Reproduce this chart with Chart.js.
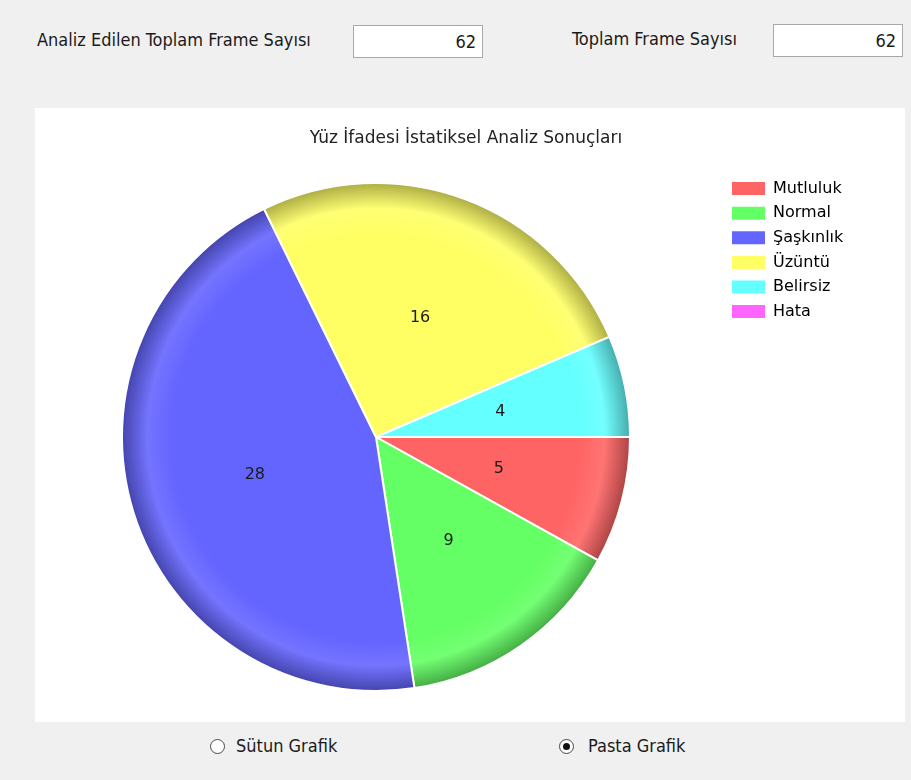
<!DOCTYPE html>
<html>
<head>
<meta charset="utf-8">
<script src="https://cdn.jsdelivr.net/npm/chart.js@4.4.1/dist/chart.umd.min.js"></script>
<style>
    body { margin: 0; width: 911px; height: 780px; background: #f0f0f0; position: relative; overflow: hidden; }
    .lbl { position: absolute; font-family: "DejaVu Sans Condensed", "Liberation Sans", sans-serif; font-size: 18px; color: #1b1b1b; white-space: nowrap; }
    .box { position: absolute; width: 128px; height: 31px; background: #fff; border: 1px solid #a8a8a8; box-sizing: content-box;
           font-family: "DejaVu Sans Condensed", "Liberation Sans", sans-serif; font-size: 18px; color: #1b1b1b;
           text-align: right; line-height: 31px; }
    .box span { margin-right: 6px; }
    #panel { position: absolute; left: 35px; top: 108px; width: 870px; height: 614px; background: #fff; }
    #wrap { position: absolute; left: 20px; top: 108px; width: 885px; height: 614px; }
    .radio { position: absolute; width: 13px; height: 13px; border: 1px solid #4a4a4a; border-radius: 50%; background: #fff; }
    .radio.on::after { content: ""; position: absolute; left: 3px; top: 3px; width: 7px; height: 7px; border-radius: 50%; background: #111; }
</style>
</head>
<body>
<div class="lbl" style="left:37px; top:26px; line-height:28px;">Analiz Edilen Toplam Frame Sayısı</div>
<div class="box" style="left:353px; top:25px;"><span id="analyzed"></span></div>
<div class="lbl" style="left:572px; top:25px; line-height:28px;">Toplam Frame Sayısı</div>
<div class="box" style="left:773px; top:24px;"><span id="total"></span></div>

<div id="panel"></div>
<div id="wrap"><canvas id="chart" width="885" height="614"></canvas></div>

<div class="radio" style="left:210px; top:739px;"></div>
<div class="lbl" style="left:236px; top:733px; line-height:26px;">Sütun Grafik</div>
<div class="radio on" style="left:559px; top:739px;"></div>
<div class="lbl" style="left:588px; top:733px; line-height:26px;">Pasta Grafik</div>

<script>
    const title = 'Yüz İfadesi İstatiksel Analiz Sonuçları';
    const labels = ['Mutluluk', 'Normal', 'Şaşkınlık', 'Üzüntü', 'Belirsiz', 'Hata'];
    const values = [5, 9, 28, 16, 4, 0];
    const analyzedFrames = 62;
    const totalFrames = 62;

    const colors = ['#ff6464', '#64ff64', '#6464ff', '#ffff64', '#64ffff', '#ff64ff'];
    const pieRadius = 254;
    const legendFont = { family: 'DejaVu Sans', size: 16 };
    const legendPad = 8.6;
    const legendBox = 33;

    document.getElementById('analyzed').textContent = analyzedFrames;
    document.getElementById('total').textContent = totalFrames;

    // mix a hex colour towards black (f < 1) or white (f > 1)
    const shade = (hex, f) => {
        const n = parseInt(hex.slice(1), 16);
        let rgb = [(n >> 16) & 255, (n >> 8) & 255, n & 255];
        rgb = rgb.map(c => f < 1 ? Math.round(c * f) : Math.round(c + (255 - c) * (f - 1)));
        return `rgb(${rgb[0]}, ${rgb[1]}, ${rgb[2]})`;
    };

    const sliceFill = (c) => {
        const base = colors[c.dataIndex];
        const area = c.chart.chartArea;
        if (!area) return base;
        const cx = (area.left + area.right) / 2;
        const cy = (area.top + area.bottom) / 2;
        const g = c.chart.ctx.createRadialGradient(cx, cy, 0, cx, cy, pieRadius);
        g.addColorStop(0, base);
        g.addColorStop(0.8, base);
        g.addColorStop(0.9, shade(base, 1.1));
        g.addColorStop(1, shade(base, 0.68));
        return g;
    };

    const valueLabels = {
        id: 'valueLabels',
        afterDatasetsDraw(chart) {
            const ctx = chart.ctx;
            const meta = chart.getDatasetMeta(0);
            ctx.save();
            ctx.font = '16px "DejaVu Sans"';
            ctx.fillStyle = '#1a1a1a';
            ctx.textAlign = 'center';
            ctx.textBaseline = 'middle';
            meta.data.forEach((arc, i) => {
                if (!values[i]) return;
                const p = arc.tooltipPosition();
                ctx.fillText(values[i], p.x, p.y);
            });
            ctx.restore();
        }
    };

    // title is centred over the whole white panel, not over pie + legend
    const panelTitle = {
        id: 'panelTitle',
        afterLayout(chart) {
            const t = chart.titleBlock;
            if (!t) return;
            t.left = 15;
            t.right = 877;
            t.width = t.right - t.left;
        }
    };

    // legend width as Chart.js will fit it, so the pie stays centred where the reference has it
    const canvas = document.getElementById('chart');
    const mctx = canvas.getContext('2d');
    mctx.font = legendFont.size + 'px ' + legendFont.family;
    const textW = Math.max(...labels.map(t => mctx.measureText(t).width));
    const legendW = legendPad + legendBox + legendFont.size / 2 + textW + 10;
    const areaRight = 703.4;
    const padRight = canvas.width - areaRight - legendW;

    new Chart(canvas, {
        type: 'pie',
        data: {
            labels: labels,
            datasets: [{
                data: values,
                backgroundColor: sliceFill,
                borderColor: '#ffffff',
                borderWidth: 2,
                radius: pieRadius
            }]
        },
        options: {
            responsive: false,
            animation: false,
            rotation: 90,
            layout: {
                padding: { left: 8.6, right: padRight, top: 0, bottom: 20 }
            },
            plugins: {
                title: {
                    display: true,
                    text: title,
                    color: '#222',
                    font: { family: 'DejaVu Sans', size: 17, weight: 'normal' },
                    padding: { top: 20.8, bottom: 22.8 }
                },
                legend: {
                    position: 'right',
                    align: 'start',
                    fullSize: false,
                    labels: {
                        boxWidth: legendBox,
                        boxHeight: 13,
                        padding: legendPad,
                        color: '#222',
                        font: legendFont,
                        generateLabels: () => labels.map((t, i) => ({
                            text: t,
                            fillStyle: colors[i],
                            strokeStyle: colors[i],
                            lineWidth: 0,
                            hidden: false,
                            index: i
                        }))
                    }
                },
                tooltip: { enabled: false }
            }
        },
        plugins: [valueLabels, panelTitle]
    });
</script>
</body>
</html>
